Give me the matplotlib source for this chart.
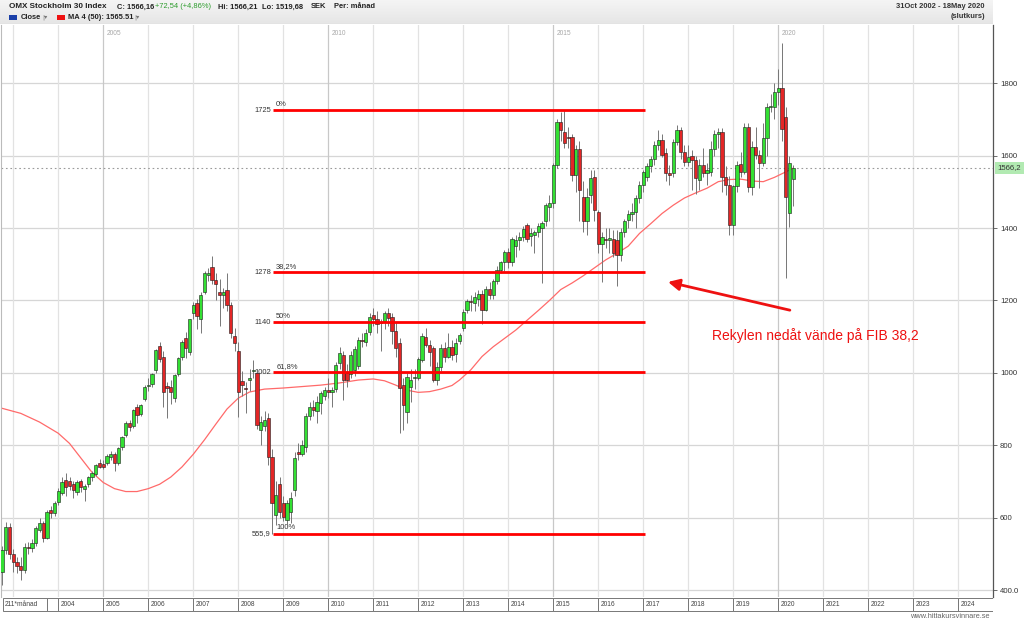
import numpy as np
import matplotlib
matplotlib.use("Agg")
import matplotlib.pyplot as plt
from matplotlib.patches import Rectangle

plt.rcParams['font.family'] = ['Liberation Sans', 'DejaVu Sans']

# ---------------- data (monthly OHLC, Oct 2002 .. May 2020) ----------------
start_year, start_month = 2002, 10
open_ = [450, 510, 575, 500, 478, 466, 456, 520, 515, 531, 566, 584,
         545, 620, 613, 644, 668, 703, 700, 693, 670, 700, 680, 692,
         711, 720, 752, 748, 750, 768, 777, 750, 794, 828, 862, 853,
         906, 885, 927, 964, 968, 1008, 1075, 1045, 963, 961, 931, 998,
         1043, 1095, 1058, 1164, 1192, 1150, 1224, 1270, 1293, 1256, 1222, 1216,
         1229, 1187, 1101, 1060, 978, 958, 980, 1005, 999, 842, 853, 874,
         768, 607, 693, 639, 593, 616, 676, 779, 777, 796, 881, 905,
         895, 916, 936, 952, 948, 954, 1028, 1049, 1000, 998, 1008, 1019,
         1091, 1086, 1114, 1161, 1150, 1137, 1144, 1166, 1153, 1116, 1081, 966,
         893, 962, 985, 987, 1035, 1098, 1077, 1068, 980, 1017, 1068, 1045,
         1070, 1052, 1089, 1123, 1174, 1199, 1192, 1205, 1218, 1174, 1232, 1215,
         1254, 1283, 1306, 1335, 1305, 1350, 1367, 1376, 1408, 1378, 1381, 1390,
         1399, 1418, 1459, 1468, 1574, 1694, 1666, 1652, 1652, 1546, 1617, 1487,
         1418, 1491, 1540, 1445, 1357, 1370, 1367, 1369, 1368, 1325, 1390, 1422,
         1440, 1445, 1482, 1519, 1540, 1571, 1590, 1629, 1643, 1606, 1551, 1551,
         1638, 1672, 1611, 1583, 1599, 1588, 1533, 1574, 1551, 1556, 1617, 1661,
         1664, 1542, 1519, 1408, 1516, 1576, 1556, 1680, 1512, 1625, 1602, 1579,
         1650, 1735, 1733, 1775, 1786, 1706, 1441, 1535]
high = [522, 589, 584, 512, 492, 490, 530, 532, 540, 578, 598, 592,
        622, 632, 645, 682, 713, 722, 712, 702, 705, 706, 692, 716,
        730, 748, 762, 760, 775, 785, 782, 795, 826, 866, 870, 900,
        915, 915, 965, 985, 1000, 1066, 1085, 1060, 975, 980, 998, 1045,
        1090, 1112, 1150, 1195, 1205, 1222, 1280, 1290, 1323, 1275, 1260, 1235,
        1275, 1195, 1125, 1085, 1005, 975, 1010, 1035, 1010, 880, 895, 890,
        790, 700, 712, 660, 650, 670, 780, 805, 815, 890, 920, 925,
        935, 950, 960, 985, 960, 1030, 1070, 1060, 1025, 1060, 1075, 1100,
        1110, 1120, 1165, 1180, 1170, 1150, 1172, 1178, 1165, 1140, 1095, 985,
        1000, 1010, 1010, 1045, 1110, 1125, 1090, 1075, 1030, 1080, 1085, 1110,
        1090, 1095, 1110, 1175, 1205, 1215, 1222, 1230, 1230, 1240, 1250, 1260,
        1295, 1310, 1340, 1345, 1375, 1380, 1390, 1405, 1415, 1400, 1395, 1415,
        1420, 1470, 1490, 1580, 1700, 1720, 1725, 1680, 1660, 1630, 1640, 1530,
        1510, 1560, 1560, 1450, 1390, 1400, 1400, 1395, 1395, 1400, 1425, 1450,
        1470, 1490, 1530, 1560, 1580, 1600, 1640, 1670, 1660, 1620, 1575, 1645,
        1685, 1680, 1630, 1630, 1615, 1600, 1590, 1620, 1580, 1640, 1670, 1675,
        1675, 1570, 1545, 1520, 1585, 1610, 1690, 1690, 1640, 1680, 1615, 1690,
        1745, 1770, 1800, 1840, 1910, 1735, 1600, 1575]
low = [414, 500, 487, 450, 448, 428, 448, 500, 505, 522, 560, 532,
       540, 600, 605, 636, 662, 660, 676, 655, 662, 670, 645, 685,
       700, 714, 738, 735, 744, 758, 730, 745, 788, 822, 840, 848,
       860, 880, 922, 950, 960, 1000, 1030, 906, 874, 915, 920, 990,
       1035, 1040, 1050, 1150, 1120, 1110, 1218, 1255, 1245, 1200, 1130, 1180,
       1170, 1095, 1060, 879, 935, 888, 950, 985, 845, 800, 840, 745,
       555.9, 580, 600, 590, 575, 585, 660, 760, 770, 780, 870, 880,
       860, 885, 925, 930, 905, 948, 1010, 925, 960, 985, 990, 1010,
       1070, 1075, 1105, 1130, 1110, 1060, 1120, 1130, 1080, 1045, 833, 842,
       860, 920, 955, 980, 1030, 1070, 1020, 975, 965, 1005, 1030, 1040,
       1035, 1030, 1080, 1115, 1165, 1170, 1170, 1185, 1135, 1170, 1205, 1205,
       1245, 1275, 1280, 1290, 1295, 1320, 1340, 1365, 1360, 1350, 1330, 1375,
       1247, 1405, 1420, 1455, 1565, 1640, 1620, 1620, 1530, 1500, 1420, 1390,
       1380, 1470, 1420, 1330, 1250, 1345, 1330, 1320, 1240, 1310, 1375, 1400,
       1420, 1400, 1470, 1500, 1530, 1555, 1575, 1615, 1595, 1530, 1520, 1540,
       1630, 1590, 1570, 1570, 1505, 1495, 1505, 1540, 1520, 1545, 1600, 1620,
       1500, 1490, 1380, 1380, 1500, 1540, 1550, 1500, 1490, 1590, 1510, 1570,
       1600, 1720, 1700, 1740, 1640, 1261, 1404, 1460]
close = [510, 575, 500, 478, 466, 456, 520, 515, 531, 570, 584, 545,
         616, 613, 639, 674, 697, 685, 686, 677, 699, 684, 687, 713,
         722, 745, 740, 741, 770, 775, 750, 791, 822, 862, 851, 897,
         883, 911, 960, 966, 996, 1063, 1037, 948, 957, 948, 994, 1042,
         1086, 1068, 1148, 1187, 1158, 1215, 1275, 1277, 1256, 1244, 1216, 1222,
         1187, 1109, 1081, 948, 966, 954, 987, 1008, 856, 865, 870, 768,
         639, 662, 616, 603, 641, 653, 764, 777, 800, 881, 905, 897,
         920, 943, 952, 948, 952, 1021, 1054, 980, 980, 1049, 1065, 1091,
         1089, 1111, 1155, 1150, 1135, 1141, 1164, 1152, 1116, 1068, 957, 911,
         989, 980, 989, 1037, 1103, 1077, 1058, 980, 1017, 1068, 1045, 1072,
         1049, 1083, 1104, 1169, 1199, 1196, 1210, 1218, 1174, 1232, 1215, 1254,
         1283, 1306, 1335, 1307, 1371, 1367, 1376, 1398, 1371, 1385, 1390, 1406,
         1414, 1463, 1468, 1574, 1694, 1671, 1634, 1648, 1546, 1617, 1505, 1418,
         1487, 1537, 1450, 1357, 1376, 1367, 1372, 1330, 1325, 1390, 1418, 1440,
         1445, 1482, 1519, 1556, 1571, 1590, 1629, 1643, 1602, 1551, 1546, 1638,
         1672, 1611, 1583, 1597, 1588, 1537, 1574, 1551, 1560, 1617, 1660, 1664,
         1542, 1519, 1408, 1516, 1574, 1556, 1680, 1512, 1625, 1602, 1579, 1650,
         1735, 1738, 1775, 1786, 1673, 1485, 1580, 1566.16]

ma_idx = [0, 5, 10, 15, 18, 21, 24, 27, 30, 33, 36, 39, 42, 45, 48, 51, 54, 57,
          60, 63, 66, 70, 75, 80, 85, 90, 95, 99, 102, 105, 108, 111, 114, 117,
          120, 122, 125, 128, 131, 134, 137, 140, 143, 146, 149, 152, 155, 158,
          161, 164, 167, 170, 173, 176, 179, 182, 185, 188, 191, 194, 197, 200,
          203, 206, 209, 211]
ma_val = [902, 888, 864, 833, 805, 765, 725, 697, 680, 672, 672, 680, 692, 712,
          740, 775, 815, 858, 900, 930, 947, 955, 958, 962, 966, 972, 980, 983,
          978, 966, 952, 946, 948, 955, 965, 980, 1008, 1045, 1072, 1095, 1118,
          1145, 1172, 1200, 1230, 1248, 1268, 1290, 1312, 1330, 1350, 1385, 1412,
          1440, 1463, 1483, 1497, 1510, 1528, 1534, 1535, 1530, 1528, 1540, 1555,
          1565.5]

fib_levels = [1725, 1278, 1140, 1002, 555.9]
fib_value_labels = ["1725", "1278", "1140", "1002", "555,9"]
fib_pct_labels = ["0%", "38,2%", "50%", "61,8%", "100%"]
fib_start, fib_end = 72.3, 171.5

last_price = 1566.2
years = list(range(2003, 2025))
y_ticks = [400, 600, 800, 1000, 1200, 1400, 1600, 1800]
y_tick_labels = ["400.0", "600", "800", "1000", "1200", "1400", "1600", "1800"]

# ---------------- figure ----------------
W, H = 1024, 619
fig = plt.figure(figsize=(W / 100, H / 100), dpi=100)
fig.patch.set_facecolor('white')

def fx(px):
    return px / W

def fy(py):
    return 1 - py / H

ax = fig.add_axes([fx(1), fy(597), fx(992), 572 / H])
ax.set_xlim(-0.27, 264.27)
ax.set_ylim(380.7, 1960.8)
ax.set_facecolor('white')

x = np.arange(len(close))
o = np.array(open_, float)
h = np.array(high, float)
l = np.array(low, float)
c = np.array(close, float)

def month_pos(year, month=1):
    return (year - start_year) * 12 + (month - start_month)

# grid
for yv in y_ticks:
    ax.axhline(yv, color='#d6d6d6', lw=0.9, zorder=0)
for yr in years:
    p = month_pos(yr)
    col = '#c8c8c8' if yr % 5 == 0 else '#e2e2e2'
    ax.axvline(p, color=col, lw=0.9, zorder=0)
for yr in (2005, 2010, 2015, 2020):
    ax.text(month_pos(yr) + 0.9, 1948, str(yr), fontsize=4.8, color='#a8a8a8',
            ha='left', va='top', zorder=1)

# last price dotted line
ax.axhline(last_price, color='#9a9a9a', lw=0.8, ls=(0, (1.5, 2.5)), zorder=1)

# MA line
ax.plot(ma_idx, ma_val, color='#ff6a6a', lw=0.9, zorder=2)

# fib labels (behind candles)
for lev, vl, pl in zip(fib_levels, fib_value_labels, fib_pct_labels):
    ax.text(fib_start - 0.6, lev, vl, fontsize=5.4, color='#333333',
            ha='right', va='center', zorder=2)
    ax.text(fib_start + 0.8, lev + 6, pl, fontsize=5.4, color='#333333',
            ha='left', va='bottom', zorder=2)

# candles
ax.vlines(x, l, h, color='#767676', lw=0.7, zorder=3)
up = c >= o
bb = np.minimum(o, c)
bh = np.maximum(np.abs(c - o), 3.0)
ax.bar(x[up], bh[up], bottom=bb[up], width=0.82, color='#33e033',
       edgecolor='#1c1c1c', lw=0.4, zorder=4)
ax.bar(x[~up], bh[~up], bottom=bb[~up], width=0.82, color='#e32626',
       edgecolor='#1c1c1c', lw=0.4, zorder=4)

# fib lines
for lev in fib_levels:
    ax.plot([fib_start, fib_end], [lev, lev], color='#ff0000', lw=2.0,
            solid_capstyle='butt', zorder=5)

# arrow + annotation text
ax.annotate('', xy=(177.6, 1251), xytext=(210.1, 1173),
            arrowprops=dict(arrowstyle='-|>', color='#ee1111', lw=2.0,
                            mutation_scale=17, shrinkA=0, shrinkB=0), zorder=6)
ax.text(189.3, 1102, 'Rekylen nedåt vände på FIB 38,2', fontsize=10,
        color='#ee1111', ha='left', va='center', zorder=6)

# axes styling
for s in ('top', 'bottom'):
    ax.spines[s].set_visible(False)
ax.spines['left'].set_color('#bbbbbb')
ax.spines['left'].set_linewidth(0.8)
ax.spines['right'].set_color('#555555')
ax.spines['right'].set_linewidth(0.9)
ax.set_xticks([])
ax.yaxis.tick_right()
ax.set_yticks(y_ticks)
ax.set_yticklabels(y_tick_labels)
ax.tick_params(axis='y', length=3, width=0.6, color='#555555', pad=2,
               labelsize=5.6, labelcolor='#333333')

# last price tag
fig.patches.append(Rectangle((fx(995), fy(173.5)), fx(29), 11 / H,
                             transform=fig.transFigure, facecolor='#b2eab2',
                             edgecolor='none', zorder=10))
fig.text(fx(997), fy(167.8), '1566,2', fontsize=5.6, color='#333333',
         ha='left', va='center', zorder=11)

# year strip
sax = fig.add_axes([fx(1), fy(612), fx(992), 15 / H])
sax.set_xlim(ax.get_xlim())
sax.set_ylim(0, 1)
sax.axis('off')
for yr in years[1:]:
    p0 = month_pos(yr)
    p1 = min(month_pos(yr + 1), 264.27)
    sax.add_patch(Rectangle((p0, 0.08), p1 - p0, 0.84, facecolor='white',
                            edgecolor='#777777', lw=0.7))
    sax.text(p0 + 0.6, 0.5, str(yr), fontsize=4.8, color='#444444',
             ha='left', va='center')
sax.add_patch(Rectangle((0.2, 0.08), 11.7, 0.84, facecolor='white',
                        edgecolor='#777777', lw=0.7))
sax.add_patch(Rectangle((11.9, 0.08), month_pos(2004) - 11.9, 0.84,
                        facecolor='white', edgecolor='#777777', lw=0.7))
sax.text(0.6, 0.5, '211*månad', fontsize=4.8, color='#444444', ha='left',
         va='center')

# header
hax = fig.add_axes([0, fy(24), fx(993), 24 / H])
grad = np.linspace(0.96, 0.90, 50).reshape(-1, 1)
hax.imshow(np.dstack([grad, grad, grad]), aspect='auto', extent=[0, 1, 0, 1])
hax.axhline(0.01, color='#c4c4c4', lw=0.8)
hax.set_xlim(0, 1)
hax.set_ylim(0, 1)
hax.axis('off')

r1 = fy(7)
r2 = fy(17.5)
hfs = 5.4
fig.text(fx(9), r1, 'OMX Stockholm 30 Index', fontsize=5.9, fontweight='bold',
         color='#222222', va='center', ha='left')
fig.text(fx(117), r1, 'C: 1566,16', fontsize=hfs, fontweight='bold',
         color='#222222', va='center', ha='left')
fig.text(fx(155), r1, '+72,54 (+4,86%)', fontsize=hfs, color='#2c9c2c',
         va='center', ha='left')
fig.text(fx(218), r1, 'Hi: 1566,21', fontsize=hfs, fontweight='bold',
         color='#222222', va='center', ha='left')
fig.text(fx(262), r1, 'Lo: 1519,68', fontsize=hfs, fontweight='bold',
         color='#222222', va='center', ha='left')
fig.text(fx(311), r1, 'SEK', fontsize=hfs, fontweight='bold',
         color='#222222', va='center', ha='left')
fig.text(fx(334), r1, 'Per: månad', fontsize=hfs, fontweight='bold',
         color='#222222', va='center', ha='left')

fig.patches.append(Rectangle((fx(9), fy(20)), fx(8), 5 / H,
                             transform=fig.transFigure, facecolor='#1a3fa8',
                             edgecolor='none', zorder=10))
fig.text(fx(21), r2, 'Close', fontsize=hfs, fontweight='bold', color='#222222',
         va='center', ha='left', zorder=11)
fig.text(fx(42), r2, '|▾', fontsize=4.5, color='#777777', va='center',
         ha='left', family=['DejaVu Sans'], zorder=11)
fig.patches.append(Rectangle((fx(57), fy(20)), fx(8), 5 / H,
                             transform=fig.transFigure, facecolor='#ee1111',
                             edgecolor='none', zorder=10))
fig.text(fx(68), r2, 'MA 4 (50): 1565.51', fontsize=hfs, fontweight='bold',
         color='#222222', va='center', ha='left', zorder=11)
fig.text(fx(134), r2, '|▾', fontsize=4.5, color='#777777', va='center',
         ha='left', family=['DejaVu Sans'], zorder=11)

fig.text(fx(985), r1, '31Oct 2002 - 18May 2020', fontsize=hfs,
         fontweight='bold', color='#333333', va='center', ha='right')
fig.text(fx(985), fy(16.5), '(slutkurs)', fontsize=hfs, fontweight='bold',
         color='#333333', va='center', ha='right')

fig.text(fx(990), fy(616), 'www.hittakursvinnare.se', fontsize=5.3,
         color='#666666', va='center', ha='right')

fig.savefig('out.png', dpi=100, facecolor='white')
